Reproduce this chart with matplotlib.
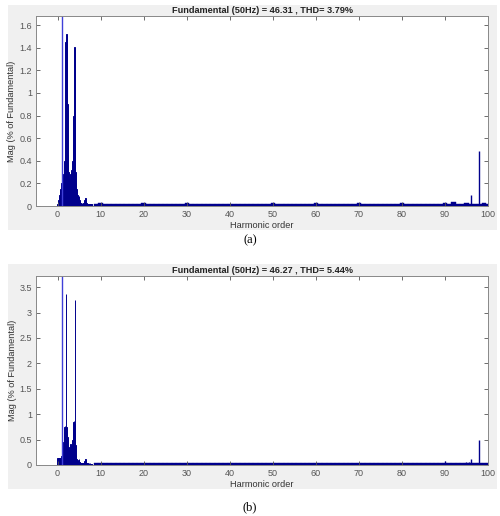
import numpy as np
import matplotlib.pyplot as plt
from matplotlib.patches import Rectangle

# harmonic orders 0.0 .. 8.0 in 0.1 steps (dense part of the spectrum)
low_orders = np.round(np.arange(0, 8.05, 0.1), 1)

low_mag_a = [0.02, 0.04, 0.05, 0.06, 0.08, 0.10, 0.12, 0.15, 0.18, 0.20,
             0.22, 0.22, 0.25, 0.22, 0.28, 0.30, 0.40, 0.55, 0.70, 1.45,
             1.48, 1.52, 1.50, 0.90, 0.45, 0.30, 0.25, 0.22, 0.20, 0.24,
             0.28, 0.30, 0.32, 0.34, 0.33, 0.40, 0.55, 0.80, 0.83, 1.41,
             1.40, 0.60, 0.30, 0.20, 0.15, 0.12, 0.10, 0.08, 0.06, 0.08,
             0.09, 0.05, 0.04, 0.03, 0.03, 0.03, 0.02, 0.03, 0.02, 0.03,
             0.03, 0.02, 0.03, 0.05, 0.07, 0.07, 0.04, 0.03, 0.02, 0.02,
             0.02, 0.02, 0.015, 0.02, 0.015, 0.015, 0.02, 0.015, 0.015, 0.015,
             0.015]

low_mag_b = [0.13, 0.13, 0.13, 0.13, 0.13, 0.13, 0.13, 0.13, 0.14, 0.18,
             0.25, 0.28, 0.30, 0.35, 0.45, 0.65, 0.75, 0.76, 0.72, 0.75,
             3.37, 0.74, 0.65, 0.55, 0.40, 0.30, 0.28, 0.30, 0.35, 0.40,
             0.42, 0.38, 0.30, 0.35, 0.40, 0.50, 0.70, 0.85, 0.86, 0.80,
             3.25, 0.70, 0.40, 0.20, 0.12, 0.10, 0.08, 0.06, 0.05, 0.10,
             0.12, 0.06, 0.05, 0.04, 0.04, 0.03, 0.04, 0.03, 0.04, 0.03,
             0.04, 0.03, 0.04, 0.08, 0.12, 0.11, 0.06, 0.04, 0.03, 0.03,
             0.03, 0.03, 0.02, 0.03, 0.02, 0.02, 0.03, 0.02, 0.02, 0.02,
             0.02]

# integer orders 9 .. 100 (noise floor)
floor_orders = np.arange(9, 101)

floor_a = [0.018, 0.025, 0.018, 0.018, 0.018, 0.018, 0.018, 0.018, 0.018, 0.018,
           0.018, 0.025, 0.018, 0.018, 0.018, 0.018, 0.018, 0.018, 0.018, 0.018,
           0.018, 0.025, 0.018, 0.018, 0.018, 0.018, 0.018, 0.018, 0.018, 0.022,
           0.018, 0.018, 0.018, 0.018, 0.018, 0.018, 0.018, 0.018, 0.018, 0.018,
           0.018, 0.025, 0.018, 0.018, 0.018, 0.018, 0.022, 0.018, 0.018, 0.018,
           0.018, 0.025, 0.018, 0.018, 0.018, 0.018, 0.018, 0.018, 0.018, 0.018,
           0.018, 0.025, 0.018, 0.018, 0.018, 0.018, 0.018, 0.018, 0.018, 0.018,
           0.018, 0.025, 0.018, 0.018, 0.018, 0.018, 0.018, 0.018, 0.018, 0.018,
           0.018, 0.028, 0.018, 0.032, 0.020, 0.020, 0.028, 0.020, 0.018, 0.018,
           0.028, 0.020]

floor_b = [0.03] * 92

# isolated high-order spikes
spike_orders_a = [92, 95, 96, 98, 99.6]
spike_mag_a = [0.03, 0.03, 0.10, 0.49, 0.02]

spike_orders_b = [90, 92, 93, 95, 95.5, 96, 98, 99.6]
spike_mag_b = [0.07, 0.03, 0.02, 0.05, 0.06, 0.12, 0.49, 0.02]

fundamental_order = 1
fundamental_mag = 100

titles = ["Fundamental (50Hz) = 46.31 , THD= 3.79%",
          "Fundamental (50Hz) = 46.27 , THD= 5.44%"]
ylims = [1.68, 3.72]
yticks = [np.arange(0, 1.61, 0.2), np.arange(0, 3.51, 0.5)]
captions = ["(a)", "(b)"]

navy = (0.0, 0.0, 0.55)
light = (0.25, 0.25, 0.85)

plt.rcParams['font.family'] = ['Liberation Sans', 'DejaVu Sans']

fig = plt.figure(figsize=(5.0, 5.16), dpi=100)
W, H = 500, 516

# gray MATLAB-style panels behind each axes (pixel boxes)
for top, bottom in [(5, 230), (264, 489)]:
    fig.patches.append(Rectangle((8 / W, 1 - bottom / H), (497 - 8) / W, (bottom - top) / H,
                                 transform=fig.transFigure, facecolor='#f0f0f0',
                                 edgecolor='none', zorder=-10))

axes_px = [(16, 206), (276, 465)]
data = [(low_mag_a, floor_a, spike_orders_a, spike_mag_a),
        (low_mag_b, floor_b, spike_orders_b, spike_mag_b)]

for i, (top, bottom) in enumerate(axes_px):
    ax = fig.add_axes([36 / W, 1 - bottom / H, (488 - 36) / W, (bottom - top) / H], zorder=5)
    ax.set_facecolor('white')
    low, floor, sp_o, sp_m = data[i]

    ax.bar(low_orders, low, width=0.1, color=navy, edgecolor=navy, linewidth=0.7)
    ax.bar(floor_orders, floor, width=1.0, color=navy, edgecolor=navy, linewidth=0.3)
    ax.vlines(sp_o, 0, sp_m, color=navy, linewidth=1.0)
    ax.vlines([fundamental_order], 0, [fundamental_mag], color=light, linewidth=1.0)

    ax.set_xlim(-5, 100)
    ax.set_ylim(0, ylims[i])
    ax.set_xticks(np.arange(0, 101, 10))
    ax.set_yticks(yticks[i])
    ax.set_yticklabels(['%g' % v for v in yticks[i]])
    ax.tick_params(direction='in', length=3, width=0.6, labelsize=6.5,
                   colors='#555555', top=True, right=True, pad=3)
    for s in ax.spines.values():
        s.set_color('#888888')
        s.set_linewidth(0.7)
    ax.set_title(titles[i], fontsize=6.6, fontweight='bold', pad=2.5, color='#222222')
    ax.set_xlabel("Harmonic order", fontsize=6.6, color='#333333', labelpad=1.5)
    ax.set_ylabel("Mag (% of Fundamental)", fontsize=6.6, color='#333333', labelpad=2)

fig.text(250 / W, 1 - 240 / H, captions[0], family='Liberation Serif', fontsize=9,
         ha='center', va='center')
fig.text(250 / W, 1 - 507 / H, captions[1], family='Liberation Serif', fontsize=9,
         ha='center', va='center')

fig.savefig('out.png', dpi=100, facecolor='white')
